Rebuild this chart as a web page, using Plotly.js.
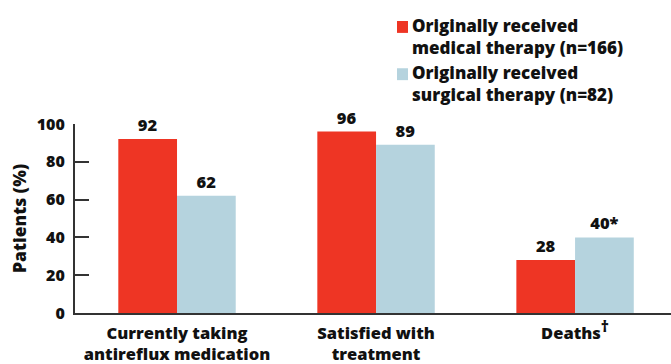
<!DOCTYPE html>
<html>
<head>
<meta charset="utf-8">
<script src="https://cdn.plot.ly/plotly-3.0.1.min.js"></script>
<style>
  html, body { margin: 0; padding: 0; background: #fff; }
  #chart { width: 671px; height: 364px; }
</style>
</head>
<body>
<div id="chart"></div>
<script>
// Outcomes by originally assigned therapy
const categories = [
  'Currently taking<br>antireflux medication',
  'Satisfied with<br>treatment',
  'Deaths<sup><span style="font-size:16px">†</span></sup>'
];
const seriesNames = [
  'Originally received<br>medical therapy (n=166)',
  'Originally received<br>surgical therapy (n=82)'
];
const medicalValues = [92, 96, 28];
const surgicalValues = [62, 89, 40];
const medicalNotes = ['', '', ''];
const surgicalNotes = ['', '', '*'];
const yTicks = [0, 20, 40, 60, 80, 100];

const FONT = 'Open Sans, sans-serif';
const W = 800;
const RED = '#ee3524';
const BLUE = '#b5d3de';
const INK = '#111111';

function barTrace(name, values, notes, color) {
  return {
    type: 'bar',
    name: name,
    x: categories,
    y: values,
    text: values.map((v, i) => v + notes[i]),
    texttemplate: '%{text}',
    textposition: 'outside',
    textfont: { family: FONT, size: 16.5, color: INK, weight: W },
    cliponaxis: false,
    marker: { color: color, line: { width: 0 } },
    hoverinfo: 'skip'
  };
}

const traces = [
  barTrace(seriesNames[0], medicalValues, medicalNotes, RED),
  barTrace(seriesNames[1], surgicalValues, surgicalNotes, BLUE)
];

// Legend drawn as paper-positioned swatches and labels
const legendColors = [RED, BLUE];
const legendTop = [1.55, 1.30];
const shapes = [];
const annotations = [];
seriesNames.forEach((name, i) => {
  shapes.push({
    type: 'rect', xref: 'paper', yref: 'paper',
    x0: 0.5403, x1: 0.5587,
    y0: legendTop[i] - 0.005, y1: legendTop[i] - 0.068,
    fillcolor: legendColors[i], line: { width: 0 }
  });
  annotations.push({
    xref: 'paper', yref: 'paper',
    x: 0.5625, y: legendTop[i] + 0.045,
    xanchor: 'left', yanchor: 'top', align: 'left',
    showarrow: false,
    text: name,
    font: { family: FONT, size: 17, color: INK, weight: W }
  });
});

const layout = {
  width: 671,
  height: 364,
  margin: { l: 75, r: 0, t: 124, b: 51 },
  paper_bgcolor: '#ffffff',
  plot_bgcolor: '#ffffff',
  barmode: 'group',
  bargap: 0.41,
  bargroupgap: 0,
  showlegend: false,
  font: { family: FONT, size: 16, color: INK, weight: W },
  xaxis: {
    range: [-0.5126, 2.482],
    showline: true,
    linecolor: '#333333',
    linewidth: 2,
    ticks: '',
    showgrid: false,
    zeroline: false,
    fixedrange: true,
    ticklabelstandoff: 4,
    tickfont: { family: FONT, size: 16.5, color: INK, weight: W }
  },
  yaxis: {
    range: [0, 100],
    tickvals: yTicks,
    ticktext: yTicks.map(String),
    showline: true,
    linecolor: '#333333',
    linewidth: 2,
    ticks: 'inside',
    ticklen: 14,
    tickwidth: 2,
    tickcolor: '#333333',
    showgrid: false,
    zeroline: false,
    fixedrange: true,
    ticklabelstandoff: 5,
    tickfont: { family: FONT, size: 16, color: INK, weight: W },
    title: {
      text: 'Patients (%)',
      font: { family: FONT, size: 17.5, color: INK, weight: W },
      standoff: 6
    }
  },
  shapes: shapes,
  annotations: annotations
};

Plotly.newPlot('chart', traces, layout, { displayModeBar: false, staticPlot: true });
</script>
</body>
</html>
